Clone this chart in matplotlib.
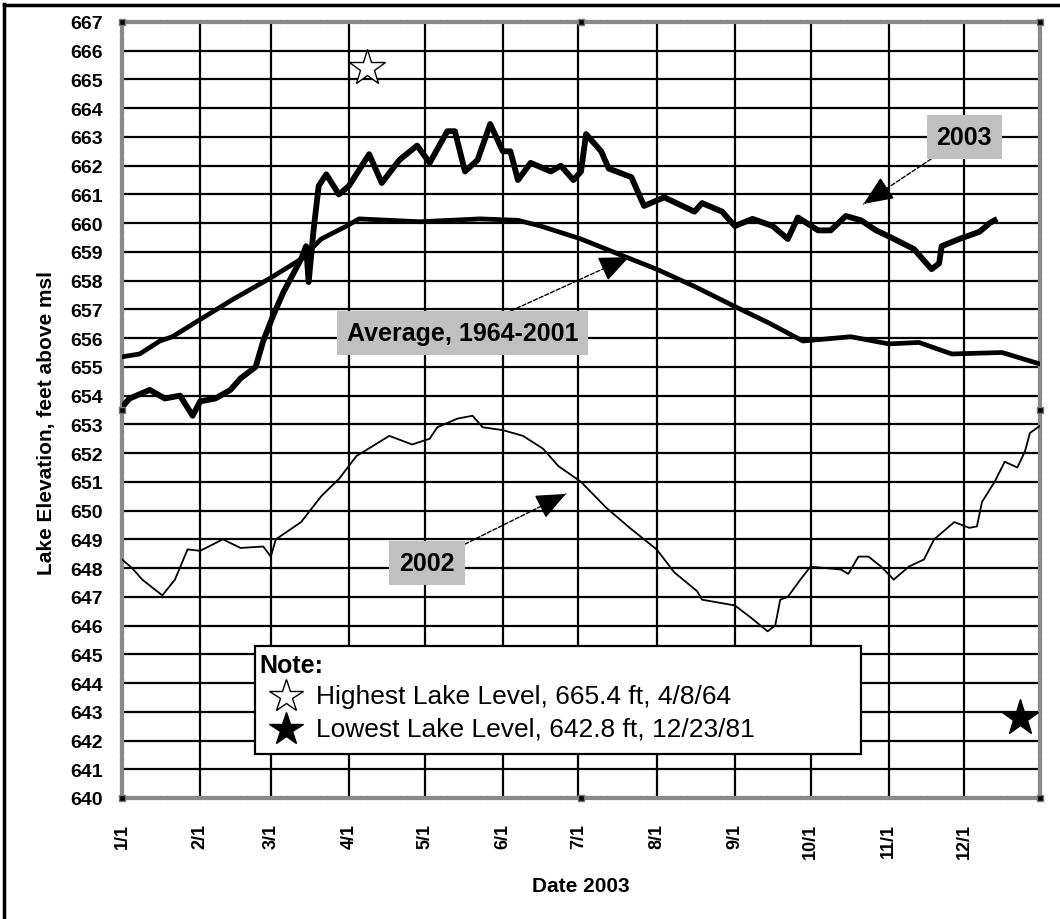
import matplotlib
matplotlib.use("Agg")
import matplotlib.pyplot as plt
from matplotlib.lines import Line2D
from matplotlib.patches import Rectangle
import pandas as pd

# lake level readings (feet above msl)
dates_2003 = ["01-01", "01-04", "01-12", "01-18", "01-24", "01-29", "02-01", "02-07",
              "02-13", "02-17", "02-23", "02-26", "03-02", "03-06", "03-13", "03-15",
              "03-16", "03-18", "03-20", "03-23", "03-28", "04-01", "04-09", "04-14",
              "04-21", "04-28", "05-03", "05-10", "05-13", "05-17", "05-22", "05-27",
              "06-01", "06-04", "06-07", "06-12", "06-20", "06-24", "06-29", "07-02",
              "07-04", "07-10", "07-13", "07-22", "07-27", "08-04", "08-16", "08-19",
              "08-27", "09-01", "09-08", "09-16", "09-22", "09-26", "10-04", "10-09",
              "10-15", "10-21", "10-27", "11-02", "11-11", "11-18", "11-21", "11-22",
              "11-29", "12-07", "12-11", "12-13"]
level_2003 = [653.6, 653.9, 654.2, 653.9, 654.0, 653.3, 653.8, 653.9,
              654.2, 654.6, 655.0, 655.9, 656.8, 657.6, 658.75, 659.2,
              657.95, 659.8, 661.3, 661.7, 661.0, 661.3, 662.4, 661.4,
              662.2, 662.7, 662.1, 663.2, 663.2, 661.8, 662.2, 663.45,
              662.5, 662.5, 661.5, 662.1, 661.8, 662.0, 661.5, 661.8,
              663.1, 662.5, 661.9, 661.6, 660.6, 660.9, 660.4, 660.7,
              660.4, 659.9, 660.15, 659.9, 659.45, 660.2, 659.75, 659.75,
              660.25, 660.1, 659.75, 659.5, 659.1, 658.4, 658.6, 659.2,
              659.45, 659.7, 660.0, 660.1]

dates_avg = ["01-01", "01-08", "01-16", "01-21", "02-01", "02-14", "03-01", "03-13",
             "03-21", "03-31", "04-05", "04-29", "05-23", "06-07", "06-16", "07-02",
             "07-19", "08-01", "08-16", "09-01", "09-14", "09-28", "10-17", "11-01",
             "11-13", "11-26", "12-16", "12-31"]
level_avg = [655.35, 655.45, 655.9, 656.05, 656.65, 657.35, 658.1, 658.75,
             659.45, 659.9, 660.15, 660.05, 660.15, 660.1, 659.9, 659.45,
             658.85, 658.4, 657.8, 657.1, 656.55, 655.9, 656.05, 655.8,
             655.85, 655.45, 655.5, 655.1]

dates_2002 = ["01-01", "01-05", "01-09", "01-17", "01-22", "01-27", "02-01", "02-10",
              "02-17", "02-26", "03-01", "03-03", "03-13", "03-21", "03-28", "04-04",
              "04-17", "04-26", "05-03", "05-06", "05-14", "05-20", "05-24", "06-01",
              "06-09", "06-17", "06-23", "07-02", "07-12", "07-22", "08-01", "08-08",
              "08-17", "08-19", "09-01", "09-07", "09-14", "09-17", "09-19", "09-22",
              "09-27", "10-01", "10-13", "10-16", "10-20", "10-24", "10-29", "11-03",
              "11-09", "11-15", "11-19", "11-27", "12-03", "12-06", "12-08", "12-13",
              "12-17", "12-22", "12-25", "12-27", "12-31"]
level_2002 = [648.3, 648.0, 647.6, 647.05, 647.6, 648.65, 648.6, 649.0,
              648.7, 648.75, 648.4, 649.0, 649.6, 650.5, 651.1, 651.9,
              652.6, 652.3, 652.5, 652.9, 653.2, 653.3, 652.9, 652.8,
              652.6, 652.15, 651.55, 651.0, 650.1, 649.35, 648.65, 647.85,
              647.2, 646.9, 646.7, 646.3, 645.8, 646.0, 646.9, 647.0,
              647.6, 648.05, 647.95, 647.8, 648.4, 648.4, 648.05, 647.6,
              648.05, 648.3, 649.0, 649.6, 649.4, 649.45, 650.3, 651.0,
              651.7, 651.5, 652.05, 652.7, 652.95]

record_high = ("04-08", 665.4)
record_low = ("12-23", 642.8)

month_ticks = ["1/1", "2/1", "3/1", "4/1", "5/1", "6/1", "7/1", "8/1", "9/1", "10/1", "11/1", "12/1"]


def to_dt(mmdd):
    return pd.to_datetime(["2003-" + d for d in mmdd])


def day(mmdd):
    return pd.Timestamp("2003-" + mmdd)


plt.rcParams["font.family"] = ["Liberation Sans", "DejaVu Sans"]

fig = plt.figure(figsize=(10.6, 9.2), dpi=100)
ax = fig.add_axes([122 / 1060, 121 / 920, 918 / 1060, 776 / 920])

ax.plot(to_dt(dates_2003), level_2003, color="black", lw=4.2, zorder=4)
ax.plot(to_dt(dates_avg), level_avg, color="black", lw=3.4, zorder=4)
ax.plot(to_dt(dates_2002), level_2002, color="black", lw=1.3, zorder=4)

ax.plot(to_dt([record_high[0]]), [record_high[1]], marker="*", ms=27,
        mfc="white", mec="black", mew=1.0, ls="none", zorder=5)
ax.plot(to_dt([record_low[0]]), [record_low[1]], marker="*", ms=27,
        mfc="black", mec="black", ls="none", zorder=5)

ax.set_xlim(pd.Timestamp("2003-01-01"), pd.Timestamp("2003-12-31"))
ax.set_ylim(640, 667)
ax.set_yticks(range(640, 668))
ax.set_xticks(pd.date_range("2003-01-01", "2003-12-01", freq="MS"))
ax.set_xticklabels(month_ticks, rotation=90, fontsize=13, fontweight="bold")
ax.tick_params(axis="x", length=0, pad=18)
ax.tick_params(axis="y", length=0, pad=14, labelsize=14)
for lab in ax.get_yticklabels():
    lab.set_fontweight("bold")

ax.grid(True, color="black", lw=1.6, zorder=1)
ax.set_axisbelow(True)
for sp in ax.spines.values():
    sp.set_color("#8a8a8a")
    sp.set_linewidth(3.0)
    sp.set_linestyle((0, (1, 0.6)))

# selection handles on the plot frame
hx = [0, 0.5, 1, 0, 1, 0, 0.5, 1]
hy = [1, 1, 1, 0.5, 0.5, 0, 0, 0]
ax.plot(hx, hy, transform=ax.transAxes, marker="s", ms=5, mfc="black", mec="#777777",
        ls="none", clip_on=False, zorder=8)

ax.set_xlabel("Date 2003", fontsize=15, fontweight="bold", labelpad=13)
ax.set_ylabel("Lake Elevation, feet above msl", fontsize=15, fontweight="bold")
ax.yaxis.set_label_coords(-0.072, 0.485)

# callout labels: dashed leader plus a solid head
box = dict(boxstyle="square,pad=0.4", fc="#c0c0c0", ec="none")
callouts = [("2003", "12-01", 663.0, "10-22", 660.67, 0.15),
            ("Average, 1964-2001", "05-16", 656.18, "07-21", 658.82, 0.10),
            ("2002", "05-02", 648.18, "06-26", 650.58, 0.12)]
for label, bx, by, tx, ty, frac in callouts:
    b, t = day(bx), day(tx)
    ax.annotate(label, xy=(t, ty), xytext=(b, by), fontsize=18, fontweight="bold",
                ha="center", va="center", bbox=box, zorder=6,
                arrowprops=dict(arrowstyle="-", color="black", lw=1.0,
                                ls=(0, (3, 1.5)), shrinkA=0, shrinkB=0))
    near = (t + (b - t) * frac, ty + (by - ty) * frac)
    ax.annotate("", xy=(t, ty), xytext=near, zorder=6,
                arrowprops=dict(arrowstyle="-|>,head_length=0.75,head_width=0.32",
                                mutation_scale=25, color="black", lw=1.0,
                                shrinkA=0, shrinkB=0))

# note box
ax.add_patch(Rectangle((0.1449, 0.0567), 0.6601, 0.1392, transform=ax.transAxes,
                       fc="white", ec="black", lw=1.6, zorder=6))
ax.text(0.150, 0.172, "Note:", transform=ax.transAxes, fontsize=18, fontweight="bold",
        ha="left", va="center", zorder=7)
ax.plot([0.1785], [0.131], transform=ax.transAxes, marker="*", ms=25, mfc="white",
        mec="black", mew=1.0, ls="none", zorder=7, clip_on=False)
ax.plot([0.1785], [0.089], transform=ax.transAxes, marker="*", ms=25, mfc="black",
        mec="black", ls="none", zorder=7, clip_on=False)
ax.text(0.211, 0.131, "Highest Lake Level, 665.4 ft, 4/8/64", transform=ax.transAxes,
        fontsize=19, ha="left", va="center", zorder=7)
ax.text(0.211, 0.089, "Lowest Lake Level, 642.8 ft, 12/23/81", transform=ax.transAxes,
        fontsize=19, ha="left", va="center", zorder=7)

# outer frame lines (left and top only)
fig.add_artist(Line2D([4 / 1060, 4 / 1060], [0, 1 - 5 / 920], color="black", lw=2.5))
fig.add_artist(Line2D([4 / 1060, 1], [1 - 6 / 920, 1 - 6 / 920], color="black", lw=2.5))

fig.savefig("out.png", dpi=100)
